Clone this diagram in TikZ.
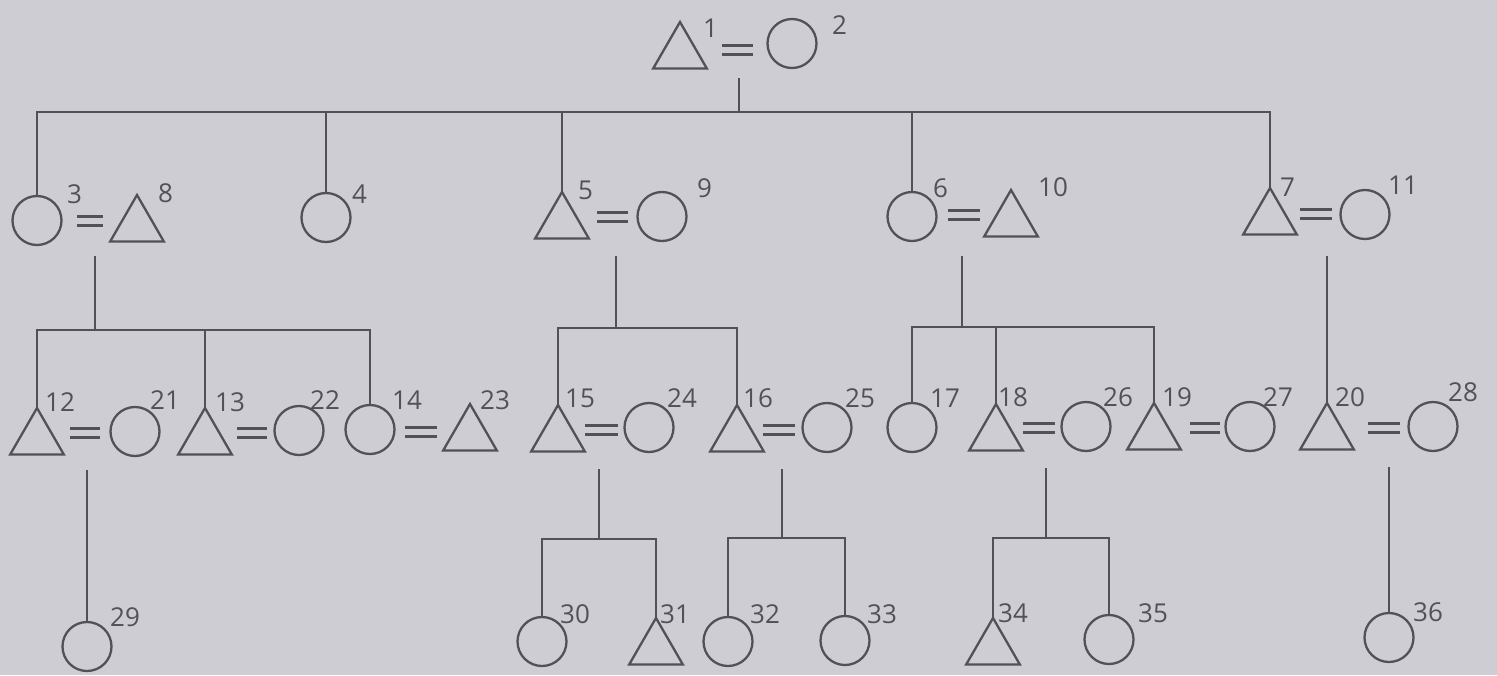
\documentclass[tikz,border=0pt]{standalone}
\usepackage{fontspec}
\setmainfont{Open Sans}
\usetikzlibrary{shapes.geometric}
\definecolor{bgc}{RGB}{206,205,211}
\definecolor{ink}{RGB}{82,82,86}
\tikzset{
  fem/.style={circle,draw=ink,line width=2.3pt,minimum size=49pt,inner sep=0pt,outer sep=0pt,anchor=north},
  mal/.style={regular polygon,regular polygon sides=3,draw=ink,line width=2.3pt,minimum size=62pt,inner sep=0pt,outer sep=0pt,anchor=corner 1},
  lbl/.style={anchor=west,inner sep=0pt,text=ink,font=\fontsize{26}{28}\selectfont},
  ln/.style={draw=ink,line width=2.3pt},
  eqln/.style={draw=ink,line width=2.3pt}
}
\newcommand\marr[3]{\draw[eqln] (#1,#3-4.5) -- (#2,#3-4.5) (#1,#3+4.5) -- (#2,#3+4.5);}
\begin{document}
\begin{tikzpicture}[x=1pt,y=-1pt]
\fill[bgc] (0,0) rectangle (1497,675);
\useasboundingbox (0,0) rectangle (1497,675);
% generation 1
\node[mal] (p1) at (680,22) {};
\node[fem] (p2) at (792,19) {};
\marr{722}{753}{50}
\node[lbl] (l1) at (703,28) {1};
\node[lbl] (l2) at (832,25) {2};
\coordinate (m12) at (739,78);
\coordinate (j1) at (739,112);
% generation 2
\node[fem] (p3) at (37,196) {};
\node[mal] (p8) at (137,195) {};
\marr{77}{103}{221}
\node[lbl] (l3) at (67,194) {3};
\node[lbl] (l8) at (158,193) {8};
\node[fem] (p4) at (326,193) {};
\node[lbl] (l4) at (352,194) {4};
\node[mal] (p5) at (562,192) {};
\node[fem] (p9) at (662,192) {};
\marr{597}{628}{217}
\node[lbl] (l5) at (578,190) {5};
\node[lbl] (l9) at (697,188) {9};
\node[fem] (p6) at (912,192) {};
\node[mal] (p10) at (1011,190) {};
\marr{948}{980}{215}
\node[lbl] (l6) at (933,188) {6};
\node[lbl] (l10) at (1038,187) {10};
\node[mal] (p7) at (1270,188) {};
\node[fem] (p11) at (1365,190) {};
\marr{1300}{1332}{214}
\node[lbl] (l7) at (1280,187) {7};
\node[lbl] (l11) at (1388,185) {11};
% generation 3
\node[mal] (p12) at (37,408) {};
\node[fem] (p21) at (135,407) {};
\marr{70}{100}{433}
\node[lbl] (l12) at (45,402) {12};
\node[lbl] (l21) at (150,400) {21};
\node[mal] (p13) at (205,408) {};
\node[fem] (p22) at (299,406) {};
\marr{237}{267}{433}
\node[lbl] (l13) at (215,402) {13};
\node[lbl] (l22) at (310,400) {22};
\node[fem] (p14) at (370,405) {};
\node[mal] (p23) at (470,404) {};
\marr{405}{437}{432}
\node[lbl] (l14) at (392,400) {14};
\node[lbl] (l23) at (480,400) {23};
\node[mal] (p15) at (558,405) {};
\node[fem] (p24) at (649,403) {};
\marr{585}{618}{430}
\node[lbl] (l15) at (565,398) {15};
\node[lbl] (l24) at (667,398) {24};
\node[mal] (p16) at (737,405) {};
\node[fem] (p25) at (827,403) {};
\marr{763}{795}{430}
\node[lbl] (l16) at (743,398) {16};
\node[lbl] (l25) at (845,398) {25};
\node[fem] (p17) at (912,403) {};
\node[lbl] (l17) at (930,398) {17};
\node[mal] (p18) at (996,404) {};
\node[fem] (p26) at (1086,402) {};
\marr{1023}{1055}{428}
\node[lbl] (l18) at (998,397) {18};
\node[lbl] (l26) at (1103,397) {26};
\node[mal] (p19) at (1154,403) {};
\node[fem] (p27) at (1250,402) {};
\marr{1190}{1220}{428}
\node[lbl] (l19) at (1162,397) {19};
\node[lbl] (l27) at (1263,397) {27};
\node[mal] (p20) at (1327,403) {};
\node[fem] (p28) at (1433,402) {};
\marr{1368}{1400}{428}
\node[lbl] (l20) at (1335,397) {20};
\node[lbl] (l28) at (1448,392) {28};
% generation 4
\node[fem] (p29) at (87,622) {};
\node[lbl] (l29) at (110,617) {29};
\node[fem] (p30) at (542,617) {};
\node[lbl] (l30) at (560,614) {30};
\node[mal] (p31) at (656,618) {};
\node[lbl] (l31) at (660,614) {31};
\node[fem] (p32) at (728,617) {};
\node[lbl] (l32) at (750,614) {32};
\node[fem] (p33) at (845,616) {};
\node[lbl] (l33) at (867,614) {33};
\node[mal] (p34) at (993,618) {};
\node[lbl] (l34) at (998,613) {34};
\node[fem] (p35) at (1109,615) {};
\node[lbl] (l35) at (1138,613) {35};
\node[fem] (p36) at (1389,613) {};
\node[lbl] (l36) at (1413,612) {36};
% descent coordinates
\coordinate (m38) at (95,256);   \coordinate (j38) at (95,330);
\coordinate (m59) at (616,256);  \coordinate (j59) at (616,328);
\coordinate (m610) at (962,256); \coordinate (j610) at (962,327);
\coordinate (m711) at (1327,256);
\coordinate (m1221) at (87,470);
\coordinate (m1524) at (599,469); \coordinate (j1524) at (599,539);
\coordinate (m1625) at (782,469); \coordinate (j1625) at (782,538);
\coordinate (m1826) at (1046,468); \coordinate (j1826) at (1046,538);
\coordinate (m2028) at (1389,467);
% connectors generation 1 -> 2
\draw[ln] (m12) -- (j1);
\draw[ln] (p3.north) |- (j1) -| (p7.corner 1);
\draw[ln] (p4.north) -- (p4.north |- j1);
\draw[ln] (p5.corner 1) -- (p5.corner 1 |- j1);
\draw[ln] (p6.north) -- (p6.north |- j1);
% connectors generation 2 -> 3
\draw[ln] (m38) -- (j38);
\draw[ln] (p12.corner 1) |- (j38) -| (p14.north);
\draw[ln] (p13.corner 1) -- (p13.corner 1 |- j38);
\draw[ln] (m59) -- (j59);
\draw[ln] (p15.corner 1) |- (j59) -| (p16.corner 1);
\draw[ln] (m610) -- (j610);
\draw[ln] (p17.north) |- (j610) -| (p19.corner 1);
\draw[ln] (p18.corner 1) -- (p18.corner 1 |- j610);
\draw[ln] (m711) -- (p20.corner 1);
% connectors generation 3 -> 4
\draw[ln] (m1221) -- (p29.north);
\draw[ln] (m1524) -- (j1524);
\draw[ln] (p30.north) |- (j1524) -| (p31.corner 1);
\draw[ln] (m1625) -- (j1625);
\draw[ln] (p32.north) |- (j1625) -| (p33.north);
\draw[ln] (m1826) -- (j1826);
\draw[ln] (p34.corner 1) |- (j1826) -| (p35.north);
\draw[ln] (m2028) -- (p36.north);
\end{tikzpicture}
\end{document}
